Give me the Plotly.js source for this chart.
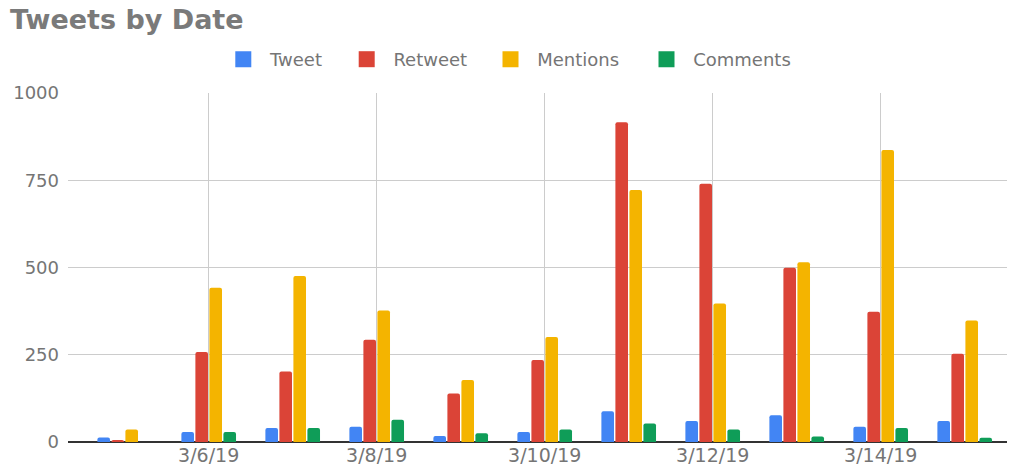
<!DOCTYPE html>
<html>
<head>
<meta charset="utf-8">
<script src="https://cdn.plot.ly/plotly-3.0.1.min.js"></script>
<style>html,body{margin:0;padding:0;background:#fff;}#chart{width:1010px;height:467px;}</style>
</head>
<body>
<div id="chart"></div>
<script>
const dates = ['2019-03-05','2019-03-06','2019-03-07','2019-03-08','2019-03-09','2019-03-10','2019-03-11','2019-03-12','2019-03-13','2019-03-14','2019-03-15'];
const tweet    = [13, 29, 40, 44, 17, 29, 88, 60, 77, 44, 60];
const retweet  = [6, 258, 202, 293, 139, 235, 916, 740, 499, 373, 253];
const mentions = [36, 442, 476, 377, 178, 301, 722, 397, 515, 837, 348];
const comments = [0, 29, 40, 64, 25, 36, 53, 36, 16, 40, 12];
const seriesNames = ['Tweet','Retweet','Mentions','Comments'];
const colors = ['#4285F4','#DB4437','#F4B400','#0F9D58'];
const yTicks = [0, 250, 500, 750, 1000];

const series = [tweet, retweet, mentions, comments];
const FONT = 'DejaVu Sans, Roboto, sans-serif';
const GRAY = '#757575';
// legend swatch centres (px from left)
const legendCenters = [243.3, 366.7, 510.5, 666.5];
const ITEMW = 43.4;

const traces = [];
series.forEach((vals, i) => {
  traces.push({
    type: 'bar', x: dates, y: vals, name: seriesNames[i],
    marker: {color: colors[i]}, showlegend: false, hoverinfo: 'x+y+name'
  });
});
const legendIds = ['legend', 'legend2', 'legend3', 'legend4'];
series.forEach((vals, i) => {
  traces.push({
    type: 'scatter', mode: 'markers', x: [null], y: [null], name: seriesNames[i],
    legend: legendIds[i],
    marker: {color: colors[i], symbol: 'square', size: 16}, showlegend: true, hoverinfo: 'skip'
  });
});

const layout = {
  width: 1010, height: 467,
  margin: {l: 68, r: 3, t: 93.3, b: 25.3, autoexpand: false},
  paper_bgcolor: '#fff', plot_bgcolor: '#fff',
  font: {family: FONT, color: GRAY},
  title: {
    text: 'Tweets by Date',
    font: {family: FONT, size: 27, color: '#7a7a7a', weight: 'bold'},
    x: 10/1010, xref: 'container', xanchor: 'left',
    y: 1 - 20/467, yref: 'container', yanchor: 'middle'
  },
  barmode: 'group', bargap: 0.333, bargroupgap: 0.1, barcornerradius: 2,
  showlegend: true,
  xaxis: {
    type: 'date',
    range: ['2019-03-04 07:48', '2019-03-15 12:05'],
    tick0: '2019-03-06', dtick: 2*86400000,
    tickformat: '%-m/%-d/%y',
    showgrid: true, gridcolor: '#cccccc', gridwidth: 1,
    ticks: '', showline: false, zeroline: false,
    tickfont: {family: FONT, size: 19, color: GRAY},
    automargin: false, fixedrange: true
  },
  yaxis: {
    range: [0, 1000], tickvals: yTicks, ticktext: yTicks.map(String),
    showgrid: true, gridcolor: '#cccccc', gridwidth: 1,
    zeroline: true, zerolinecolor: '#333333', zerolinewidth: 1.5,
    showline: false, ticks: '', ticklabelstandoff: 8,
    tickfont: {family: FONT, size: 18, color: GRAY},
    automargin: false, fixedrange: true
  }
};
legendIds.forEach((id, i) => {
  layout[id] = {
    orientation: 'h', xref: 'container', yref: 'container',
    x: (legendCenters[i] - (ITEMW / 2 + 5)) / 1010, xanchor: 'left',
    y: 1 - 59.5/467, yanchor: 'middle',
    itemwidth: ITEMW,
    font: {family: FONT, size: 18, color: GRAY},
    bgcolor: 'rgba(0,0,0,0)', borderwidth: 0
  };
});

Plotly.newPlot('chart', traces, layout, {displayModeBar: false, staticPlot: true});
</script>
</body>
</html>
